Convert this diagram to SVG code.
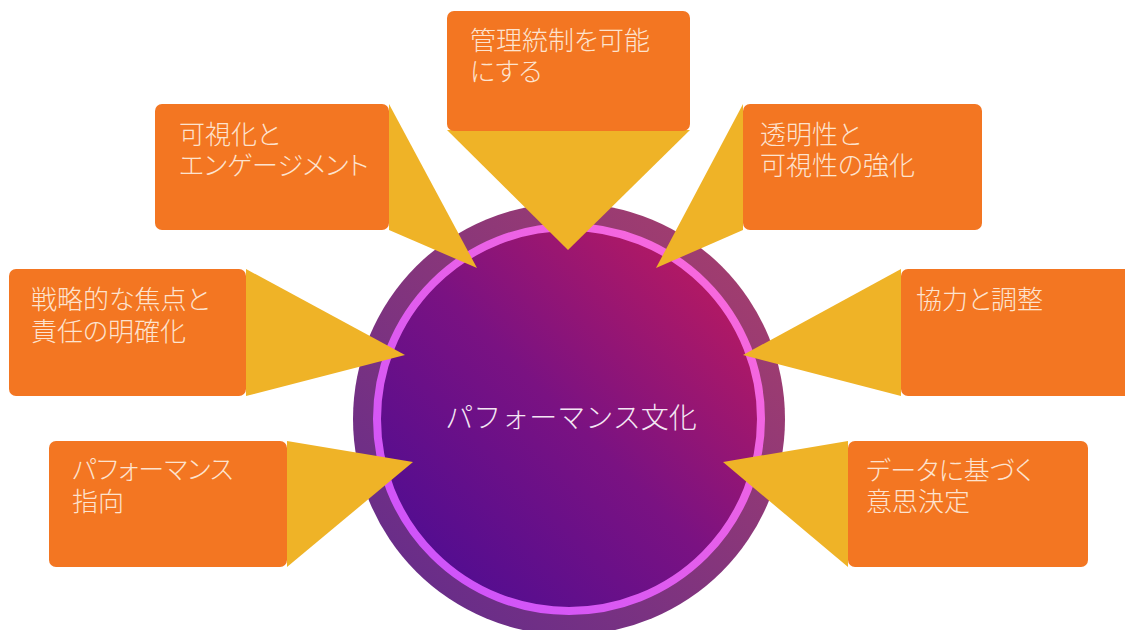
<svg xmlns="http://www.w3.org/2000/svg" width="1125" height="630" viewBox="0 0 1125 630">
<defs>
<linearGradient id="gCore" x1="0" y1="1" x2="1" y2="0">
<stop offset="0" stop-color="#440b96"/>
<stop offset="0.5" stop-color="#7a1282"/>
<stop offset="1" stop-color="#c81c58"/>
</linearGradient>
<linearGradient id="gOuter" x1="0" y1="1" x2="1" y2="0">
<stop offset="0" stop-color="#5e2a8e"/>
<stop offset="1" stop-color="#ab406a"/>
</linearGradient>
<linearGradient id="gPink" x1="0" y1="1" x2="1" y2="0">
<stop offset="0" stop-color="#c850ff"/>
<stop offset="1" stop-color="#ff6cd8"/>
</linearGradient>
<style>
.box{fill:#f37622;}
.tri{fill:#efb327;}
.lbl{font-family:"Noto Sans CJK JP Light","Noto Sans CJK JP","Noto Sans",sans-serif;font-size:26px;font-weight:200;fill:#fde3cf;font-feature-settings:"palt";}
.ctr{font-family:"Noto Sans CJK JP Light","Noto Sans CJK JP","Noto Sans",sans-serif;font-size:28px;font-weight:200;fill:#f4e6f4;}
</style>
</defs>
<rect width="1125" height="630" fill="#ffffff"/>
<g id="center">
<circle cx="569" cy="419" r="216" fill="url(#gOuter)"/>
<circle cx="569" cy="419" r="192" fill="url(#gCore)" stroke="url(#gPink)" stroke-width="8"/>
<text class="ctr" x="571" y="428" text-anchor="middle">パフォーマンス文化</text>
</g>
<g id="connectors">
<polygon class="tri" points="447,130 690,130 568,250"/>
<polygon class="tri" points="389,104 389,230 477,268"/>
<polygon class="tri" points="743,104 743,230 656,268"/>
<polygon class="tri" points="246,269 246,396 405,355"/>
<polygon class="tri" points="901,269 901,396 743,355"/>
<polygon class="tri" points="287,441 287,567 413,462"/>
<polygon class="tri" points="848,441 848,567 723,462"/>
</g>
<g id="node-governance">
<rect class="box" x="447" y="11" width="243" height="120" rx="7"/>
<text class="lbl"><tspan x="470" y="50">管理統制を可能</tspan><tspan x="470" y="81">にする</tspan></text>
</g>
<g id="node-visibility">
<rect class="box" x="155" y="104" width="234" height="126" rx="7"/>
<text class="lbl"><tspan x="179" y="144">可視化と</tspan><tspan x="179" y="175">エンゲージメント</tspan></text>
</g>
<g id="node-transparency">
<rect class="box" x="743" y="104" width="239" height="126" rx="7"/>
<text class="lbl"><tspan x="760" y="144">透明性と</tspan><tspan x="760" y="175">可視性の強化</tspan></text>
</g>
<g id="node-strategy">
<rect class="box" x="9" y="269" width="237" height="127" rx="7"/>
<text class="lbl"><tspan x="31" y="309">戦略的な焦点と</tspan><tspan x="31" y="341">責任の明確化</tspan></text>
</g>
<g id="node-collaboration">
<rect class="box" x="901" y="269" width="240" height="127" rx="7"/>
<text class="lbl" x="916" y="309">協力と調整</text>
</g>
<g id="node-performance">
<rect class="box" x="49" y="441" width="238" height="126" rx="7"/>
<text class="lbl"><tspan x="72" y="479">パフォーマンス</tspan><tspan x="72" y="511">指向</tspan></text>
</g>
<g id="node-data">
<rect class="box" x="848" y="441" width="240" height="126" rx="7"/>
<text class="lbl"><tspan x="866" y="480">データに基づく</tspan><tspan x="866" y="511">意思決定</tspan></text>
</g>
</svg>
